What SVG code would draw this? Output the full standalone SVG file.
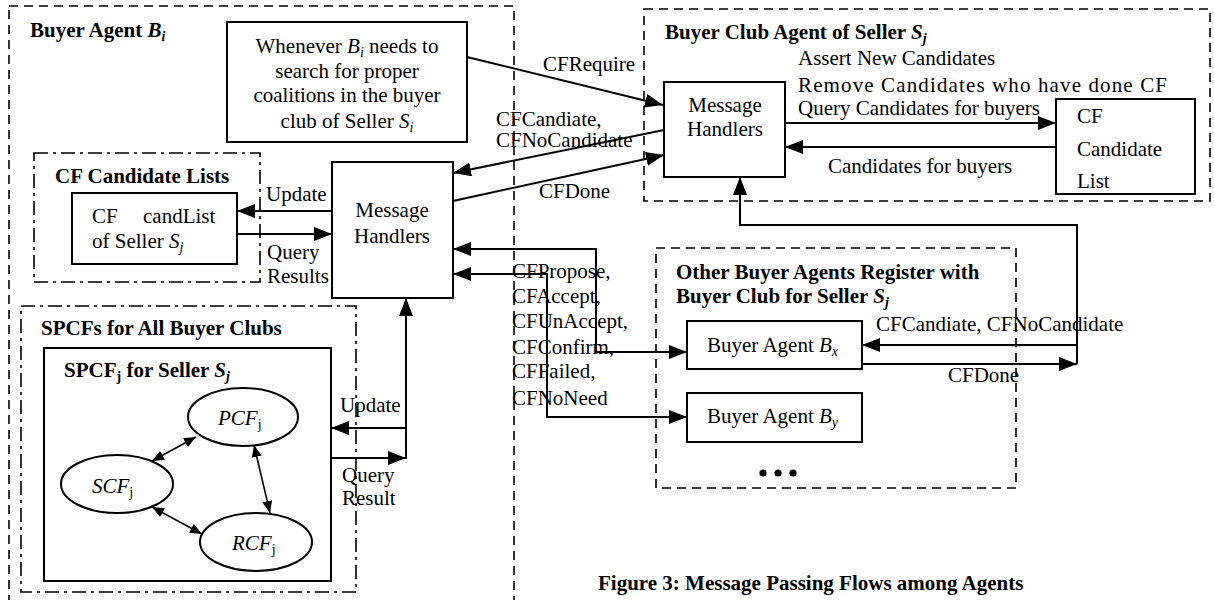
<svg xmlns="http://www.w3.org/2000/svg" width="1214" height="600" viewBox="0 0 1214 600">
  <style>
    .t { font-family: "Liberation Serif", "Times New Roman", serif; font-size: 21px; fill: #000; }
    .b { font-weight: bold; }
    .i { font-style: italic; }
    .sub { font-size: 14px; }
    .box { fill: #fff; stroke: #000; stroke-width: 2; }
    .dash { fill: none; stroke: #000; stroke-width: 1.6; stroke-dasharray: 9 6; }
    .dashdot { fill: none; stroke: #000; stroke-width: 1.6; stroke-dasharray: 14 5 3 5; }
    .ell { fill: #fff; stroke: #000; stroke-width: 2; }
    .conn { fill: none; stroke: #000; stroke-width: 2; }
    .thin { fill: none; stroke: #000; stroke-width: 1.6; }
  </style>
  <defs>
    <marker id="arr" markerUnits="userSpaceOnUse" markerWidth="18" markerHeight="14" refX="18" refY="7" orient="auto-start-reverse">
      <path d="M0,0 L18,7 L0,14 z" fill="#000"/>
    </marker>
    <marker id="arrS" markerUnits="userSpaceOnUse" markerWidth="12" markerHeight="10" refX="12" refY="5" orient="auto-start-reverse">
      <path d="M0,0 L12,5 L0,10 z" fill="#000"/>
    </marker>
  </defs>

  <rect width="1214" height="600" fill="#fff"/>

  <!-- Containers -->
  <g id="buyer-agent">
    <rect class="dash" x="9" y="6" width="505" height="604"/>
    <text class="t b" x="30" y="37">Buyer Agent <tspan class="i">B</tspan><tspan class="i sub" dy="4">i</tspan></text>
  </g>

  <g id="buyer-club-agent">
    <rect class="dash" x="644" y="9" width="566" height="192"/>
    <text class="t b" x="665" y="39">Buyer Club Agent of Seller <tspan class="i">S</tspan><tspan class="i sub" dy="4">j</tspan></text>
  </g>

  <g id="other-buyers">
    <rect class="dash" x="656" y="248" width="360" height="240"/>
    <text class="t b" x="676" y="279">Other Buyer Agents Register with</text>
    <text class="t b" x="676" y="303">Buyer Club for Seller <tspan class="i">S</tspan><tspan class="i sub" dy="4">j</tspan></text>
    <circle cx="763" cy="473" r="3.6" fill="#000"/>
    <circle cx="778" cy="473" r="3.6" fill="#000"/>
    <circle cx="793" cy="473" r="3.6" fill="#000"/>
  </g>

  <g id="cf-candidate-lists">
    <rect class="dashdot" x="34" y="153" width="226" height="129"/>
    <text class="t b" x="55" y="183">CF Candidate Lists</text>
  </g>

  <g id="spcfs">
    <rect class="dashdot" x="21" y="306" width="335" height="286"/>
    <text class="t b" x="41" y="335">SPCFs for All Buyer Clubs</text>
  </g>

  <!-- Nodes -->
  <g id="whenever">
    <rect class="box" x="227" y="22" width="240" height="120"/>
    <text class="t" x="347" y="53" text-anchor="middle">Whenever <tspan class="i">B</tspan><tspan class="i sub" dy="4">i</tspan><tspan dy="-4"> needs to</tspan></text>
    <text class="t" x="347" y="78" text-anchor="middle">search for proper</text>
    <text class="t" x="347" y="102" text-anchor="middle">coalitions in the buyer</text>
    <text class="t" x="347" y="128" text-anchor="middle">club of Seller <tspan class="i">S</tspan><tspan class="i sub" dy="4">i</tspan></text>
  </g>

  <g id="mh-buyer">
    <rect class="box" x="332" y="162" width="121" height="136"/>
    <text class="t" x="392" y="217" text-anchor="middle">Message</text>
    <text class="t" x="392" y="243" text-anchor="middle">Handlers</text>
  </g>

  <g id="candlist">
    <rect class="box" x="72" y="193" width="165" height="71"/>
    <text class="t" x="92" y="223">CF</text>
    <text class="t" x="143" y="223">candList</text>
    <text class="t" x="92" y="248">of Seller <tspan class="i">S</tspan><tspan class="i sub" dy="4">j</tspan></text>
  </g>

  <g id="spcf-j">
    <rect class="box" x="44" y="348" width="287" height="233"/>
    <text class="t b" x="64" y="377">SPCF<tspan class="sub" dy="4">j</tspan><tspan dy="-4"> for Seller </tspan><tspan class="i">S</tspan><tspan class="i sub" dy="4">j</tspan></text>
  </g>

  <g id="pcf">
    <ellipse class="ell" cx="243" cy="417" rx="55" ry="29"/>
    <text class="t i" x="218" y="425">PCF<tspan class="sub" font-style="normal" dy="4">j</tspan></text>
  </g>
  <g id="scf">
    <ellipse class="ell" cx="117" cy="484" rx="56" ry="29"/>
    <text class="t i" x="92" y="493">SCF<tspan class="sub" font-style="normal" dy="4">j</tspan></text>
  </g>
  <g id="rcf">
    <ellipse class="ell" cx="256" cy="542" rx="56" ry="29"/>
    <text class="t i" x="232" y="550">RCF<tspan class="sub" font-style="normal" dy="4">j</tspan></text>
  </g>

  <g id="mh-club">
    <rect class="box" x="664" y="82" width="121" height="95"/>
    <text class="t" x="725" y="112" text-anchor="middle">Message</text>
    <text class="t" x="725" y="136" text-anchor="middle">Handlers</text>
  </g>

  <g id="cf-candidate-list">
    <rect class="box" x="1056" y="99" width="139" height="95"/>
    <text class="t" x="1077" y="123">CF</text>
    <text class="t" x="1077" y="156">Candidate</text>
    <text class="t" x="1077" y="188">List</text>
  </g>

  <g id="buyer-bx">
    <rect class="box" x="687" y="321" width="175" height="48"/>
    <text class="t" x="707" y="352">Buyer Agent <tspan class="i">B</tspan><tspan class="i sub" dy="4">x</tspan></text>
  </g>
  <g id="buyer-by">
    <rect class="box" x="687" y="393" width="175" height="49"/>
    <text class="t" x="707" y="423">Buyer Agent <tspan class="i">B</tspan><tspan class="i sub" dy="4">y</tspan></text>
  </g>

  <!-- Connectors -->
  <g id="connectors">
    <line class="conn" x1="467" y1="57" x2="663" y2="105" marker-end="url(#arr)"/>
    <line class="conn" x1="664" y1="130" x2="453" y2="173" marker-end="url(#arr)"/>
    <line class="conn" x1="453" y1="201" x2="664" y2="155" marker-end="url(#arr)"/>
    <line class="conn" x1="785" y1="123" x2="1056" y2="123" marker-end="url(#arr)"/>
    <line class="conn" x1="1056" y1="147" x2="785" y2="147" marker-end="url(#arr)"/>
    <line class="conn" x1="332" y1="211" x2="237" y2="211" marker-end="url(#arr)"/>
    <line class="conn" x1="237" y1="234" x2="332" y2="234" marker-end="url(#arr)"/>
    <path class="conn" d="M453,249 H596 V352 H687" marker-start="url(#arr)" marker-end="url(#arr)"/>
    <path class="conn" d="M453,274 H547 V417 H687" marker-start="url(#arr)" marker-end="url(#arr)"/>
    <line class="conn" x1="1077" y1="345" x2="862" y2="345" marker-end="url(#arr)"/>
    <line class="conn" x1="862" y1="364" x2="1077" y2="364" marker-end="url(#arr)"/>
    <path class="conn" d="M1077,364 V225 H740 V177" marker-end="url(#arr)"/>
    <path class="conn" d="M406,459 V298" marker-end="url(#arr)"/>
    <line class="conn" x1="406" y1="428" x2="331" y2="428" marker-end="url(#arr)"/>
    <line class="conn" x1="331" y1="458" x2="406" y2="458" marker-end="url(#arr)"/>
    <line class="thin" x1="152" y1="461" x2="196" y2="437" marker-start="url(#arrS)" marker-end="url(#arrS)"/>
    <line class="thin" x1="254" y1="445" x2="270" y2="513" marker-start="url(#arrS)" marker-end="url(#arrS)"/>
    <line class="thin" x1="152" y1="507" x2="202" y2="534" marker-start="url(#arrS)" marker-end="url(#arrS)"/>
  </g>

  <!-- Connector labels -->
  <g id="labels">
    <text class="t" x="543" y="71">CFRequire</text>
    <text class="t" x="496" y="126">CFCandiate,</text>
    <text class="t" x="496" y="147">CFNoCandidate</text>
    <text class="t" x="539" y="198">CFDone</text>
    <text class="t" x="798" y="65">Assert New Candidates</text>
    <text class="t" x="798" y="92" textLength="369" lengthAdjust="spacing">Remove Candidates who have done CF</text>
    <text class="t" x="798" y="115">Query Candidates for buyers</text>
    <text class="t" x="828" y="173">Candidates for buyers</text>
    <text class="t" x="266" y="201">Update</text>
    <text class="t" x="267" y="259">Query</text>
    <text class="t" x="267" y="283">Results</text>
    <text class="t" x="340" y="412">Update</text>
    <text class="t" x="342" y="482">Query</text>
    <text class="t" x="342" y="505">Result</text>
    <text class="t" x="512" y="278">CFPropose,</text>
    <text class="t" x="512" y="303">CFAccept,</text>
    <text class="t" x="512" y="328">CFUnAccept,</text>
    <text class="t" x="512" y="354">CFConfirm,</text>
    <text class="t" x="512" y="378">CFFailed,</text>
    <text class="t" x="512" y="405">CFNoNeed</text>
    <text class="t" x="876" y="331">CFCandiate, CFNoCandidate</text>
    <text class="t" x="948" y="382">CFDone</text>
  </g>

  <text class="t b" x="598" y="590">Figure 3: Message Passing Flows among Agents</text>
</svg>
